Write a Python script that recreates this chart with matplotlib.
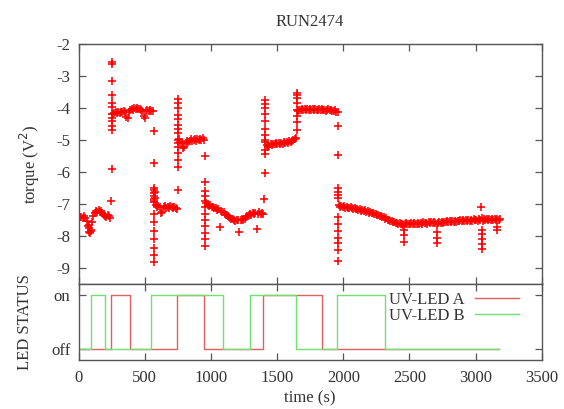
import numpy as np
import matplotlib
matplotlib.use('Agg')
import matplotlib.pyplot as plt

plt.rcParams['font.family'] = 'Liberation Serif'
plt.rcParams['axes.unicode_minus'] = False

# torque plateaus: (start time, sample step 10 s, values)
seg1_t0 = 0
seg1 = [-7.45, -7.42, -7.40, -7.44, -7.38, -7.43, -7.52, -7.70, -7.88, -7.80,
        -7.55, -7.38, -7.28, -7.22, -7.26, -7.20, -7.24, -7.21, -7.28, -7.33,
        -7.37, -7.41, -7.34, -7.39, -7.43]
seg2_t0 = 260
seg2 = [-4.20, -4.16, -4.14, -4.17, -4.12, -4.15, -4.11, -4.13, -4.10, -4.14,
        -4.28, -4.32, -4.12, -4.06, -4.03, -4.05, -4.00, -4.03, -4.01, -4.04,
        -4.02, -4.06, -4.08, -4.25, -4.30, -4.10, -4.05, -4.09, -4.06, -4.10,
        -4.08]
seg3_t0 = 572
seg3 = [-6.90, -7.02, -7.08, -7.05, -7.10, -7.28, -7.25, -7.10, -7.07, -7.12,
        -7.08, -7.11, -7.06, -7.10, -7.13, -7.09, -7.12, -7.15]
seg4_t0 = 758
seg4 = [-4.96, -5.05, -5.10, -5.25, -5.22, -5.08, -5.04, -5.06, -5.02, -4.98,
        -5.03, -5.00, -4.96, -5.02, -4.98, -5.01, -4.97, -5.00, -4.95, -4.99]
seg5_t0 = 965
seg5 = [-6.98, -7.02, -7.06, -7.04, -7.10, -7.08, -7.14, -7.12, -7.18, -7.16,
        -7.72, -7.22, -7.26, -7.24, -7.30, -7.34, -7.38, -7.42, -7.45, -7.48,
        -7.46, -7.50, -7.52, -7.49, -7.51, -7.88, -7.50, -7.47, -7.50, -7.46,
        -7.42, -7.38, -7.34, -7.30, -7.33, -7.28, -7.31, -7.27, -7.78, -7.30,
        -7.26, -7.30, -7.28, -7.32]
seg6_t0 = 1412
seg6 = [-5.00, -5.15, -5.22, -5.18, -5.13, -5.16, -5.11, -5.14, -5.10, -5.13,
        -5.09, -5.12, -5.08, -5.11, -5.07, -5.09, -5.06, -5.08, -5.04, -5.06,
        -5.02, -5.00, -4.97, -4.94]
seg7_t0 = 1658
seg7 = [-4.08, -4.05, -4.07, -4.04, -4.06, -4.03, -4.05, -4.02, -4.06, -4.04,
        -4.05, -4.03, -4.06, -4.04, -4.07, -4.05, -4.03, -4.06, -4.04, -4.07,
        -4.05, -4.08, -4.06, -4.04, -4.07, -4.05, -4.08, -4.10, -4.07, -4.11,
        -4.13]
seg8_t0 = 1965
seg8 = [-7.03, -7.08, -7.05, -7.10, -7.07, -7.12, -7.09, -7.11, -7.14, -7.10,
        -7.13, -7.16, -7.12, -7.17, -7.15, -7.19, -7.17, -7.21, -7.18, -7.22,
        -7.20, -7.25, -7.22, -7.27, -7.24, -7.29, -7.27, -7.31, -7.30, -7.34,
        -7.33, -7.38, -7.36, -7.42, -7.40, -7.46, -7.45, -7.50, -7.49, -7.53,
        -7.52, -7.56, -7.55, -7.59, -7.58, -7.62, -7.60, -7.64, -7.62, -7.66,
        -7.63, -7.60, -7.64, -7.61, -7.63, -7.59, -7.62, -7.60, -7.63, -7.61,
        -7.58, -7.62, -7.59, -7.61, -7.57, -7.60, -7.58, -7.61, -7.57, -7.59,
        -7.56, -7.60, -7.57, -7.59, -7.62, -7.58, -7.55, -7.59, -7.56, -7.58,
        -7.55, -7.57, -7.53, -7.56, -7.54, -7.57, -7.52, -7.55, -7.53, -7.56,
        -7.52, -7.54, -7.50, -7.53, -7.51, -7.54, -7.50, -7.52, -7.49, -7.53,
        -7.50, -7.52, -7.48, -7.51, -7.49, -7.52, -7.47, -7.50, -7.45, -7.52,
        -7.48, -7.51, -7.47, -7.50, -7.46, -7.49, -7.47, -7.51, -7.48, -7.50,
        -7.47, -7.50, -7.48]

# transients when the LEDs switch, plus isolated dips
spike_t = [75, 80, 85, 90,
           247, 252, 254, 254, 254, 254, 254, 254, 254, 254, 254, 254, 254,
           566, 566, 566, 566, 566, 566, 566, 566, 566, 566, 566, 566, 566, 566,
           570, 574, 576,
           748, 752, 752, 752, 752, 752, 752, 752, 752, 752, 752, 752, 752, 752, 752,
           958, 958, 958, 958, 958, 958, 958, 958, 958, 958, 958, 958,
           1400, 1405, 1405, 1405, 1405, 1405, 1405, 1405, 1405, 1405, 1405, 1405,
           1650, 1650, 1650, 1650, 1650, 1650, 1650, 1650,
           1962, 1962, 1962, 1962, 1962, 1962, 1962, 1962, 1962, 1962, 1962, 1962, 1962,
           2460, 2461, 2462, 2708, 2708, 2709,
           3044, 3045, 3046, 3045, 3046, 3045, 3160, 3162]
spike_v = [-7.65, -7.75, -7.92, -7.85,
           -6.92, -5.92, -4.69, -4.55, -4.42, -4.30, -4.18, -3.98, -3.85, -3.60, -3.15, -2.62, -2.55,
           -4.71, -5.71, -6.55, -6.65, -6.75, -6.85, -6.95, -7.30, -7.55, -7.83, -8.10, -8.36, -8.58, -8.80,
           -6.50, -6.62, -6.80,
           -6.56, -5.83, -5.63, -5.42, -5.21, -5.00, -4.79, -4.53, -4.22, -4.01, -3.85, -3.72, -4.35, -4.65, -5.10,
           -5.50, -6.30, -6.60, -6.75, -6.90, -7.10, -7.30, -7.50, -7.70, -7.90, -8.10, -8.31,
           -6.85, -6.04, -5.45, -5.30, -5.05, -4.85, -4.65, -4.40, -4.20, -4.00, -3.88, -3.75,
           -4.69, -4.45, -4.25, -4.05, -3.85, -3.70, -3.60, -3.54,
           -4.56, -5.47, -6.51, -6.62, -6.72, -6.82, -7.40, -7.62, -7.85, -8.05, -8.22, -8.44, -8.78,
           -7.82, -7.98, -8.18, -7.87, -8.05, -8.23,
           -7.10, -7.80, -7.95, -8.10, -8.25, -8.40, -7.72, -7.82]

# LED on/off switching times
led_a_t = [0, 244, 391, 744, 945, 1396, 1840, 3180]
led_a_state = [0, 1, 0, 1, 0, 1, 0, 0]
led_b_t = [0, 91, 197, 547, 1094, 1296, 1640, 1951, 2318, 3180]
led_b_state = [0, 1, 0, 1, 0, 1, 0, 1, 0, 0]

segments = [(seg1_t0, seg1), (seg2_t0, seg2), (seg3_t0, seg3), (seg4_t0, seg4),
            (seg5_t0, seg5), (seg6_t0, seg6), (seg7_t0, seg7), (seg8_t0, seg8)]
time = np.concatenate([t0 + 10 * np.arange(len(v)) for t0, v in segments] + [spike_t])
torque = np.concatenate([v for _, v in segments] + [spike_v])

fig = plt.figure(figsize=(5.64, 4.09), dpi=100)
ax1 = fig.add_axes([0.1395, 0.3056, 0.821, 0.5868])
ax2 = fig.add_axes([0.1395, 0.1198, 0.821, 0.1858], sharex=ax1)

txt = '#333333'
fs = 12
for ax in (ax1, ax2):
    for s in ax.spines.values():
        s.set_color('#555555')
        s.set_linewidth(1.0)
    ax.tick_params(direction='in', top=True, right=True, length=5, width=0.9,
                   color='#555555', labelcolor=txt, labelsize=fs, pad=6)
ax2.tick_params(axis='x', pad=7)

ax1.plot(time, torque, '+', color='red', ms=5.5, mew=1.15)
ax1.set_xlim(0, 3500)
ax1.set_ylim(-9.5, -2)
ax1.set_yticks(range(-9, -1))
ax1.set_xticks(range(0, 3501, 500))
ax1.tick_params(labelbottom=False)
ax1.set_ylabel('torque (V$^2$)', fontsize=fs, color=txt, labelpad=10)
ax1.set_title('RUN2474', fontsize=fs, color=txt, pad=13)

ax2.step(led_a_t, led_a_state, where='post', color='#e06060', lw=1.0, label='UV-LED A')
ax2.step(led_b_t, led_b_state, where='post', color='#70e070', lw=1.0, label='UV-LED B')
ax2.set_ylim(-0.2, 1.2)
ax2.set_yticks([0, 1])
ax2.set_yticklabels(['off', 'on'])
ax2.set_xlabel('time (s)', fontsize=fs, color=txt, labelpad=3)
ax2.set_ylabel('LED STATUS', fontsize=fs, color=txt, labelpad=13)
ax2.legend(loc='upper right', bbox_to_anchor=(0.97, 1.005), frameon=False,
           markerfirst=False, fontsize=fs, handlelength=2.65, handletextpad=0.65,
           labelspacing=0.0, borderpad=0, labelcolor=txt)

fig.savefig('out.png', dpi=100)
